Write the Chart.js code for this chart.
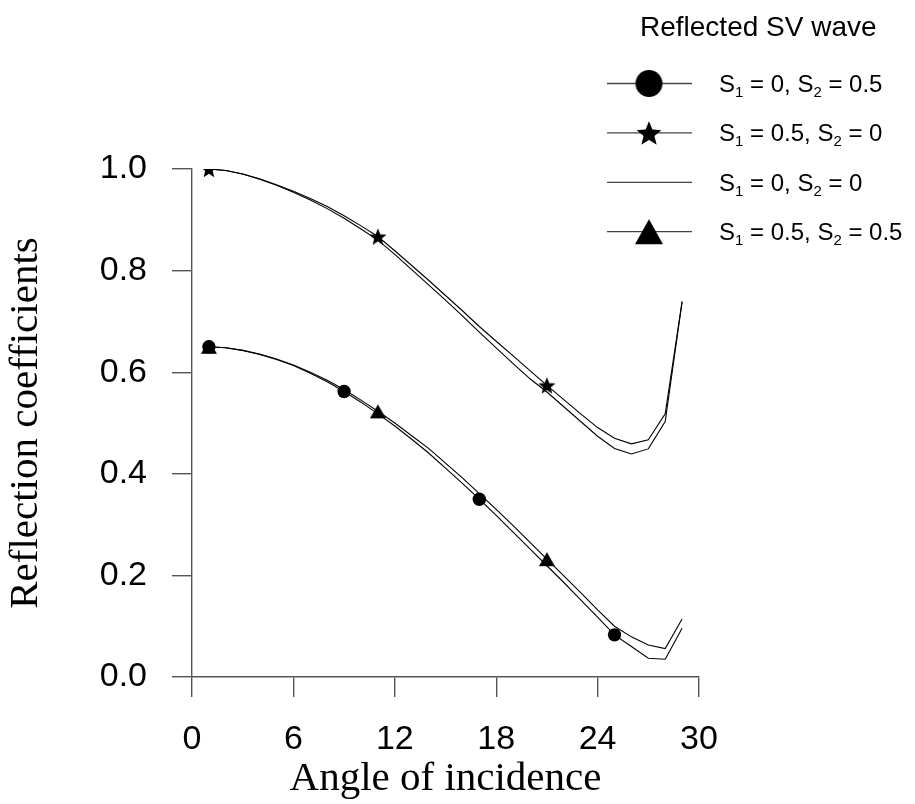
<!DOCTYPE html>
<html>
<head>
<meta charset="utf-8">
<script src="https://cdn.jsdelivr.net/npm/chart.js@4.4.1/dist/chart.umd.min.js"></script>
<style>
html,body{margin:0;padding:0;background:#fff;}
#wrap{width:915px;height:804px;}
canvas{display:block;}
</style>
</head>
<body>
<div id="wrap"><canvas id="c" width="915" height="804"></canvas></div>
<script>
// ---------------- data ----------------
const angles = [1,2,3,4,5,6,7,8,9,10,11,12,13,14,15,16,17,18,19,20,21,22,23,24,25,26,27,28,29];

// S1 = 0, S2 = 0.5 (circles)
const svS1_0_S2_05 = [0.650,0.648,0.643,0.635,0.625,0.613,0.598,0.581,0.562,0.541,0.518,0.494,0.468,0.441,0.411,0.381,0.350,0.318,0.285,0.252,0.219,0.186,0.152,0.118,0.083,0.060,0.037,0.035,0.096];
// S1 = 0.5, S2 = 0 (stars)
const svS1_05_S2_0 = [1.000,0.997,0.990,0.981,0.969,0.956,0.942,0.926,0.908,0.888,0.867,0.839,0.810,0.781,0.751,0.721,0.690,0.661,0.632,0.603,0.574,0.546,0.518,0.491,0.470,0.459,0.467,0.518,0.739];
// S1 = 0, S2 = 0 (plain line)
const svS1_0_S2_0 = [1.000,0.997,0.990,0.980,0.968,0.954,0.939,0.922,0.903,0.882,0.860,0.832,0.802,0.772,0.742,0.711,0.679,0.648,0.617,0.587,0.561,0.532,0.503,0.474,0.450,0.439,0.449,0.503,0.739];
// S1 = 0.5, S2 = 0.5 (triangles)
const svS1_05_S2_05 = [0.650,0.648,0.643,0.636,0.626,0.614,0.600,0.584,0.566,0.545,0.523,0.500,0.475,0.450,0.421,0.392,0.361,0.330,0.298,0.265,0.232,0.199,0.166,0.132,0.100,0.079,0.063,0.056,0.114];

// angles at which symbols are shown
const circleAt = [1,9,17,25];
const starAt = [1,11,21];
const triangleAt = [1,11,21];

const xTickLabels = ['0','6','12','18','24','30'];
const yTickLabels = ['0.0','0.2','0.4','0.6','0.8','1.0'];

const legendTitle = 'Reflected SV wave';
const legendLabels = ['S_1 = 0, S_2 = 0.5','S_1 = 0.5, S_2 = 0','S_1 = 0, S_2 = 0','S_1 = 0.5, S_2 = 0.5'];
const xTitle = 'Angle of incidence';
const yTitle = 'Reflection coefficients';

// ---------------- styling helpers ----------------
const SANS = '"Liberation Sans", Arial, Helvetica, sans-serif';
const SERIF = '"Liberation Serif", "Times New Roman", Times, serif';

function makeStar(R){
  const s = Math.ceil(2*R) + 2;
  const c = document.createElement('canvas'); c.width = s; c.height = s;
  const g = c.getContext('2d');
  const r = R*0.44;
  const cx = s/2, cy = s/2 + 0.0955*R;
  g.fillStyle = '#000'; g.beginPath();
  for (let k=0;k<10;k++){
    const rad = (k%2===0)?R:r;
    const a = -Math.PI/2 + k*Math.PI/5;
    const px = cx + rad*Math.cos(a), py = cy + rad*Math.sin(a);
    if(k===0) g.moveTo(px,py); else g.lineTo(px,py);
  }
  g.closePath(); g.fill();
  return c;
}
function makeTri(w,h){
  const cw = Math.ceil(w)+2, ch = Math.ceil(h)+2;
  const c = document.createElement('canvas'); c.width = cw; c.height = ch;
  const g = c.getContext('2d');
  const cx = cw/2, cy = ch/2;
  g.fillStyle = '#000'; g.beginPath();
  g.moveTo(cx, cy-h/2); g.lineTo(cx+w/2, cy+h/2); g.lineTo(cx-w/2, cy+h/2);
  g.closePath(); g.fill();
  return c;
}
function makeCircle(R){
  const s = Math.ceil(2*R)+2;
  const c = document.createElement('canvas'); c.width = s; c.height = s;
  const g = c.getContext('2d');
  g.fillStyle = '#000'; g.beginPath(); g.arc(s/2,s/2,R,0,Math.PI*2); g.fill();
  return c;
}

const starPlot = makeStar(9), triPlot = makeTri(16,14),
      starLeg = makeStar(13), triLeg = makeTri(28,25), circLeg = makeCircle(13.5);

function marks(at, r){ return angles.map(a => at.includes(a) ? r : 0); }
function pts(vals){ return angles.map((a,i)=>({x:a, y:vals[i]})); }

function lineDs(label, vals, style, at, radius){
  return {
    label, data: pts(vals),
    borderColor:'#000', borderWidth:1.1, tension:0, fill:false,
    pointStyle: style, pointRadius: at ? marks(at, radius) : 0,
    pointHoverRadius:0,
    pointBackgroundColor:'#000', pointBorderColor:'#000', pointBorderWidth:0
  };
}

function drawRich(ctx, text, x, y, size){
  const parts = text.split(/(_\d)/);
  for (const p of parts){
    if(!p) continue;
    if(p[0]==='_'){
      ctx.font = Math.round(size*0.64)+'px '+SANS;
      ctx.fillText(p.slice(1), x, y+5);
      x += ctx.measureText(p.slice(1)).width;
    } else {
      ctx.font = size+'px '+SANS;
      ctx.fillText(p, x, y);
      x += ctx.measureText(p).width;
    }
  }
}

const legendMarkers = [circLeg, starLeg, null, triLeg];

const legendPlugin = {
  id:'svLegend',
  afterDraw(chart){
    const ctx = chart.ctx;
    ctx.save();
    ctx.fillStyle = '#000';
    ctx.textAlign = 'left';
    ctx.textBaseline = 'alphabetic';
    ctx.font = '28px '+SANS;
    ctx.fillText(legendTitle, 640, 36);
    legendLabels.forEach((lab,k)=>{
      const y = 83.5 + k*49.4;
      ctx.strokeStyle = '#444'; ctx.lineWidth = 1.3;
      ctx.beginPath(); ctx.moveTo(607, y); ctx.lineTo(692, y); ctx.stroke();
      const m = legendMarkers[k];
      if (m) ctx.drawImage(m, 649 - m.width/2, y - m.height/2);
      ctx.fillStyle = '#000';
      drawRich(ctx, lab, 719, y+8.5, 24);
    });
    ctx.restore();
  }
};

new Chart(document.getElementById('c'), {
  type:'line',
  data:{
    datasets:[
      lineDs(legendLabels[0], svS1_0_S2_05, 'circle', circleAt, 6.7),
      lineDs(legendLabels[1], svS1_05_S2_0, starPlot, starAt, 9),
      lineDs(legendLabels[2], svS1_0_S2_0, 'circle', null, 0),
      lineDs(legendLabels[3], svS1_05_S2_05, triPlot, triangleAt, 8)
    ]
  },
  options:{
    responsive:false, animation:false, devicePixelRatio:1,
    layout:{padding:{top:169, right:216, left:0, bottom:0}},
    plugins:{legend:{display:false}, tooltip:{enabled:false}},
    events:[],
    scales:{
      x:{
        type:'linear', min:0, max:30,
        afterFit(s){ s.height = 127; },
        ticks:{stepSize:6, padding:22, color:'#000', font:{family:SANS, size:34}, maxRotation:0,
               callback:(v,i)=>xTickLabels[i]},
        grid:{drawOnChartArea:false, drawTicks:true, tickLength:20, color:'#555', lineWidth:1.4},
        border:{display:true, color:'#555', width:1.4},
        title:{display:true, text:xTitle, color:'#000', font:{family:SERIF, size:41, lineHeight:1.2}, padding:{top:0,bottom:0}}
      },
      y:{
        type:'linear', min:0, max:1,
        afterFit(s){ s.width = 192; },
        ticks:{stepSize:0.2, padding:25, color:'#000', font:{family:SANS, size:34},
               callback:(v,i)=>yTickLabels[i]},
        grid:{drawOnChartArea:false, drawTicks:true, tickLength:20, color:'#555', lineWidth:1.4},
        border:{display:true, color:'#555', width:1.4},
        title:{display:true, text:yTitle, color:'#000', font:{family:SERIF, size:41, lineHeight:1.2}, padding:{top:2,bottom:0}}
      }
    }
  },
  plugins:[legendPlugin]
});
</script>
</body>
</html>
